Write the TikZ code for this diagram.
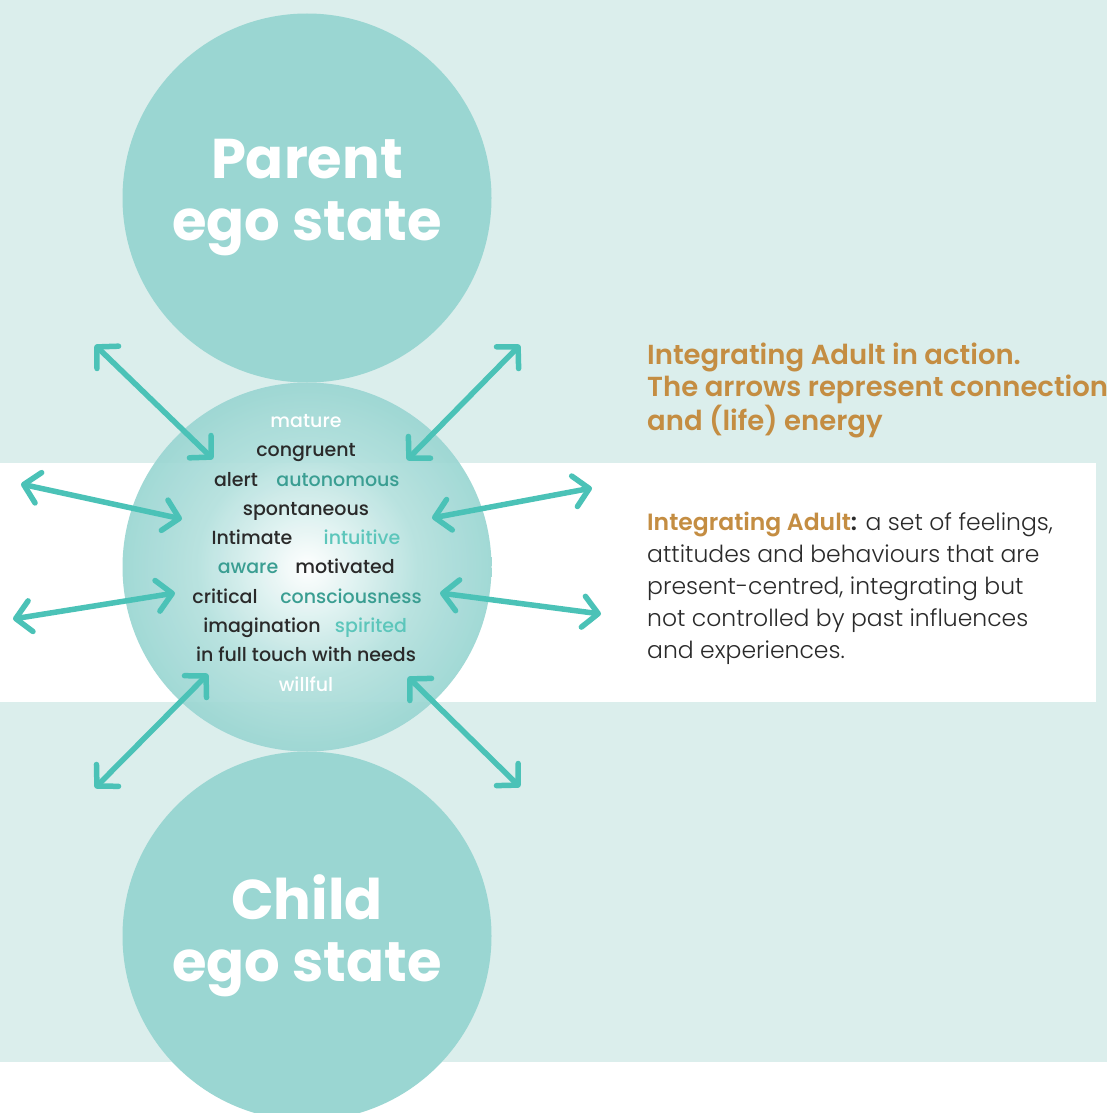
\documentclass[tikz,border=0pt]{standalone}
\usepackage{fontspec}
\setmainfont{Poppins}
\IfFontExistsTF{Poppins Medium}
	{\newfontfamily\wordfont{Poppins Medium}}{\newfontfamily\wordfont{Poppins}}
\IfFontExistsTF{Poppins SemiBold}
	{\newfontfamily\headfont{Poppins SemiBold}}{\newfontfamily\headfont{Poppins}[FakeBold=1.5]}
\IfFontExistsTF{Poppins Light}
	{\newfontfamily\bodyfont{Poppins Light}}{\newfontfamily\bodyfont{Poppins}}
\usetikzlibrary{arrows.meta}

\definecolor{bgteal}{HTML}{DBEEEC}
\definecolor{circteal}{HTML}{9AD6D2}
\definecolor{arrowteal}{HTML}{4BC2B7}
\definecolor{gold}{HTML}{C48D42}
\definecolor{darktext}{HTML}{2A2A2A}
\definecolor{deepteal}{HTML}{3A9E92}
\definecolor{paleteal}{HTML}{5CC6BB}

% soft glow for the middle circle (rim sits at 25bp)
\pgfdeclareradialshading{adultglow}{\pgfpoint{0bp}{0bp}}{%
  color(0bp)=(white); color(6bp)=(circteal!30!white);
  color(15bp)=(circteal!75!white); color(25bp)=(circteal); color(50bp)=(circteal)}

\begin{document}
\begin{tikzpicture}[x=1pt,y=-1pt,
    egostate/.style={circle,fill=circteal,minimum size=369pt,inner sep=0pt,
      text=white,align=center,font=\fontsize{56}{62}\selectfont\bfseries},
    word/.style={inner sep=0pt,text height=14pt,text depth=4pt,text=darktext,
      font=\fontsize{19}{22}\selectfont\wordfont},
    link/.style={{Straight Barb[round,length=15pt,width=31pt]}-{Straight Barb[round,length=15pt,width=31pt]},
      line width=5.5pt,arrowteal,line cap=round},
    note/.style={anchor=north west,inner sep=0pt,align=left}]

	\useasboundingbox (0,0) rectangle (1107,1113);
	\clip (0,0) rectangle (1107,1113);

	% background bands
	\fill[bgteal] (0,0) rectangle (1107,1062);
	\fill[white] (0,463) rectangle (1096,702);

	% ego states
	\node[egostate] (parent) at (307,198) {Parent\\ego state};
	\node[egostate] (child)  at (307,936) {Child\\ego state};
	\node[circle,minimum size=369pt,inner sep=0pt,shading=adultglow,opacity=0.92] (adult) at (307,567) {};

	% qualities of the integrating adult
	\node[word,text=white]    (mature)   at (306,422) {mature};
	\node[word]               (congr)    at (306,451) {congruent};
	\node[word]               (alert)    at (236,481) {alert};
	\node[word,text=deepteal] (auton)    at (338,481) {autonomous};
	\node[word]               (spont)    at (306,510) {spontaneous};
	\node[word]               (intim)    at (252,539) {Intimate};
	\node[word,text=paleteal] (intuit)   at (362,539) {intuitive};
	\node[word,text=deepteal] (aware)    at (248,568) {aware};
	\node[word]               (motiv)    at (345,568) {motivated};
	\node[word]               (critic)   at (225,598) {critical};
	\node[word,text=deepteal] (consc)    at (351,598) {consciousness};
	\node[word]               (imagin)   at (262,627) {imagination};
	\node[word,text=paleteal] (spirit)   at (371,627) {spirited};
	\node[word]               (needs)    at (306,656) {in full touch with needs};
	\node[word,text=white]    (willful)  at (306,686) {willful};

	% arrow ends
	\coordinate (nwout) at (95,345);   \coordinate (nwin) at (213,459);
	\coordinate (neout) at (520,345);  \coordinate (nein) at (407,460);
	\coordinate (wnout) at (21,484);   \coordinate (wnin) at (182,519);
	\coordinate (enout) at (592,488);  \coordinate (enin) at (432,518);
	\coordinate (wsout) at (13,619);   \coordinate (wsin) at (175,593);
	\coordinate (esout) at (601,614);  \coordinate (esin) at (440,593);
	\coordinate (swout) at (95,788);   \coordinate (swin) at (208,674);
	\coordinate (seout) at (520,787);  \coordinate (sein) at (408,677);

	\foreach \d in {nw,ne,wn,en,ws,es,sw,se}
		\draw[link] (\d out) -- (\d in);

	% captions
	\node[note,text=gold,font=\fontsize{27.5}{32}\selectfont\headfont] (action) at (647,343)
		{Integrating Adult in action.\\The arrows represent connection\\and (life) energy};
	\node[note,text=darktext,font=\fontsize{23.5}{32}\selectfont\bodyfont] (define) at (647,512)
		{{\headfont\textcolor{gold}{Integrating Adult}:} a set of feelings,\\
		 attitudes and behaviours that are\\
		 present-centred, integrating but\\
		 not controlled by past influences\\
		 and experiences.};

\end{tikzpicture}
\end{document}
